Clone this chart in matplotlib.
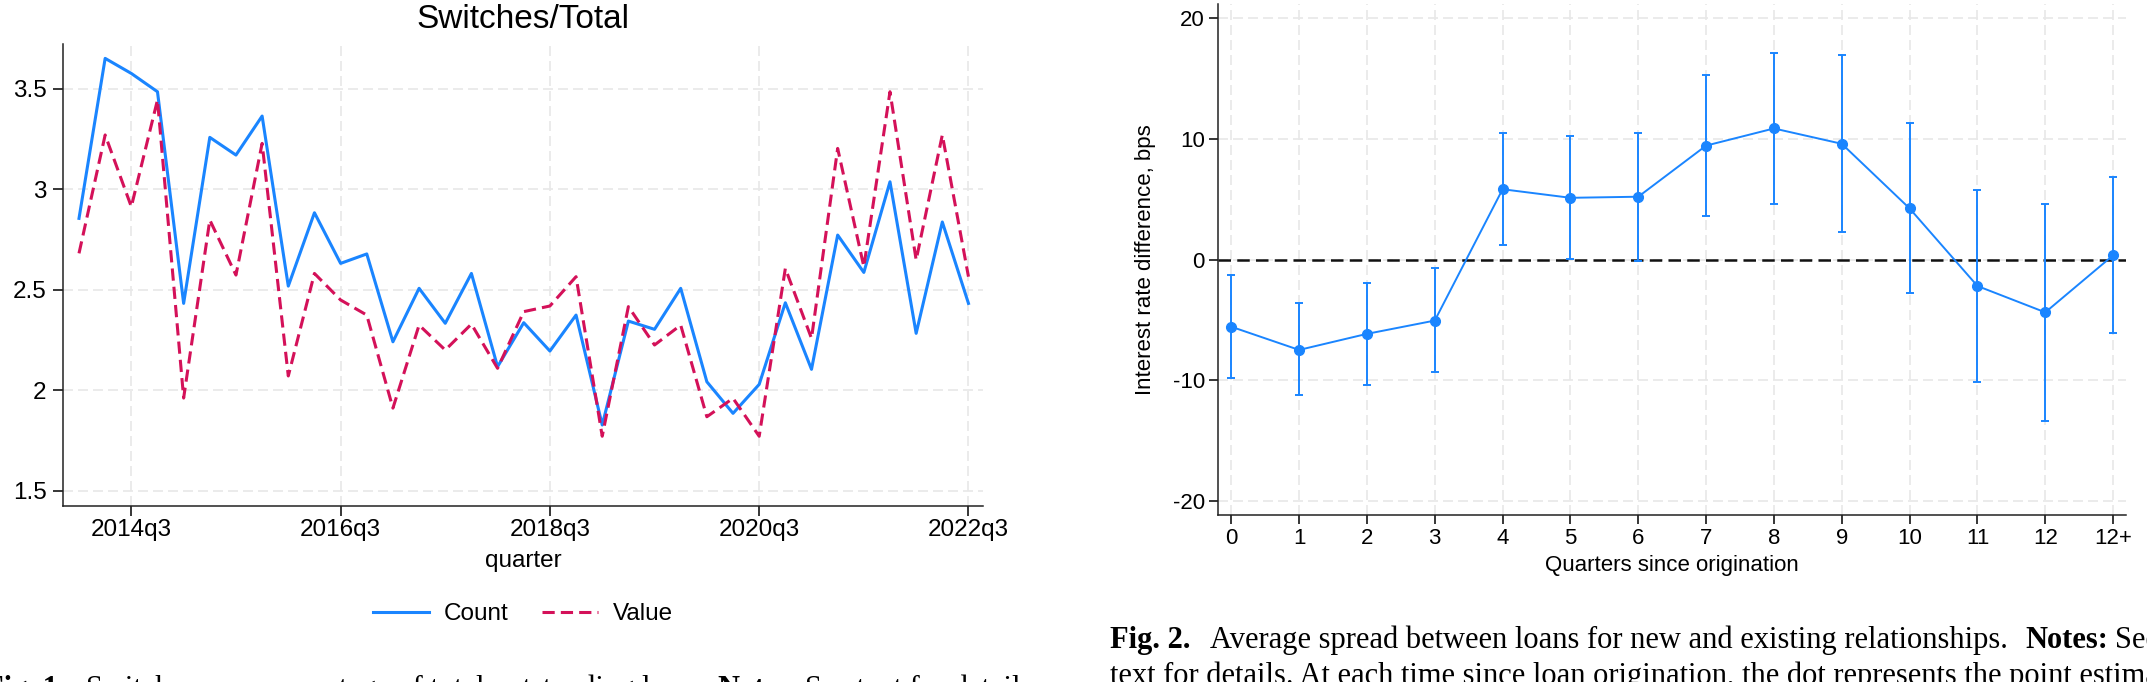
#! /usr/bin/env python3

'''
Two panels side by side: switches as a share of outstanding loans (left)
and the average spread between loans for new and existing relationships (right)
'''

import matplotlib
matplotlib.use('Agg')
import matplotlib.pyplot as plt

BLUE = '#1a85ff'
RED = '#d41159'
GRID = '#e8e8e8'
W, H = 2147, 682

quarters = ['2014q1', '2014q2', '2014q3', '2014q4', '2015q1', '2015q2', '2015q3', '2015q4',
            '2016q1', '2016q2', '2016q3', '2016q4', '2017q1', '2017q2', '2017q3', '2017q4',
            '2018q1', '2018q2', '2018q3', '2018q4', '2019q1', '2019q2', '2019q3', '2019q4',
            '2020q1', '2020q2', '2020q3', '2020q4', '2021q1', '2021q2', '2021q3', '2021q4',
            '2022q1', '2022q2', '2022q3']
count = [2.854, 3.650, 3.575, 3.484, 2.431, 3.257, 3.169, 3.363, 2.517, 2.882, 2.630, 2.677,
         2.240, 2.506, 2.332, 2.580, 2.116, 2.335, 2.194, 2.373, 1.826, 2.343, 2.302, 2.506,
         2.041, 1.884, 2.028, 2.434, 2.103, 2.771, 2.585, 3.036, 2.282, 2.836, 2.431]
value = [2.680, 3.269, 2.912, 3.443, 1.960, 2.846, 2.572, 3.227, 2.070, 2.580, 2.448, 2.373,
         1.910, 2.323, 2.199, 2.328, 2.108, 2.390, 2.418, 2.564, 1.770, 2.415, 2.224, 2.323,
         1.867, 1.959, 1.770, 2.605, 2.257, 3.202, 2.614, 3.484, 2.647, 3.269, 2.564]
quarter_ticks = ['2014q3', '2016q3', '2018q3', '2020q3', '2022q3']
share_ticks = [1.5, 2, 2.5, 3, 3.5]

since = ['0', '1', '2', '3', '4', '5', '6', '7', '8', '9', '10', '11', '12', '12+']
spread = [-5.56, -7.48, -6.15, -5.05, 5.82, 5.11, 5.20, 9.43, 10.85, 9.58, 4.23, -2.19, -4.37, 0.35]
ci_low = [-9.78, -11.23, -10.35, -9.31, 1.18, 0.06, -0.12, 3.58, 4.61, 2.28, -2.78, -10.17, -13.33, -6.09]
ci_high = [-1.27, -3.61, -1.92, -0.74, 10.49, 10.23, 10.49, 15.28, 17.11, 16.91, 11.26, 5.79, 4.58, 6.86]
bps_ticks = [-20, -10, 0, 10, 20]


def style_axes(ax):
    ax.spines['top'].set_visible(False)
    ax.spines['right'].set_visible(False)
    for side in ('left', 'bottom'):
        ax.spines[side].set_linewidth(1.1)
        ax.spines[side].set_color('#222222')
    ax.set_axisbelow(True)
    ax.grid(True, color=GRID, linestyle=(0, (6, 3)), linewidth=1.2)


def plot_switches(ax):
    x = list(range(len(quarters)))
    ax.plot(x, count, color=BLUE, lw=2.2, label='Count')
    ax.plot(x, value, color=RED, lw=2.2, dashes=(4, 2), label='Value')

    ax.set_xlim(-0.6, 34.54)
    ax.set_ylim(1.425, 3.724)
    ax.set_xticks([quarters.index(q) for q in quarter_ticks])
    ax.set_xticklabels(quarter_ticks)
    ax.set_yticks(share_ticks)
    ax.set_yticklabels(['%g' % t for t in share_ticks])
    ax.tick_params(labelsize=17.5, length=7, width=1.1)
    ax.tick_params(axis='x', pad=3)
    ax.tick_params(axis='y', pad=5)
    ax.set_xlabel('quarter', fontsize=17.5, labelpad=6)
    ax.set_title('Switches/Total', fontsize=24, pad=11)
    style_axes(ax)


def plot_spread(ax):
    x = list(range(len(since)))
    err = [[s - lo for s, lo in zip(spread, ci_low)],
           [hi - s for s, hi in zip(spread, ci_high)]]
    ax.axhline(0, color='#111111', lw=1.8, dashes=(5, 2.5), zorder=2)
    ax.errorbar(x, spread, yerr=err, color=BLUE, lw=1.4, marker='o', ms=7,
                elinewidth=1.4, capsize=3, capthick=1.4, zorder=3)

    ax.set_xlim(-0.2, 13.19)
    ax.set_ylim(-21.1, 21.15)
    ax.set_xticks(x)
    ax.set_xticklabels(since)
    ax.set_yticks(bps_ticks)
    ax.set_yticklabels([str(t) for t in bps_ticks])
    ax.tick_params(labelsize=16, length=6.5, width=1.1)
    ax.tick_params(axis='x', pad=3.5)
    ax.tick_params(axis='y', pad=2.7)
    ax.set_xlabel('Quarters since origination', fontsize=16, labelpad=4)
    ax.set_ylabel('Interest rate difference, bps', fontsize=16, labelpad=12)
    style_axes(ax)


def add_captions(fig):
    serif = ['Liberation Serif', 'DejaVu Serif']
    size = 22
    # Fig. 1 caption, mostly below the bottom edge
    y1 = 1 - 697 / H
    fig.text(-15 / W, y1, 'Fig. 1.', family=serif, fontsize=size, weight='bold')
    fig.text(86 / W, y1, 'Switches as a percentage of total outstanding loans.', family=serif, fontsize=size)
    fig.text(717 / W, y1, 'Notes:', family=serif, fontsize=size, weight='bold')
    fig.text(805 / W, y1, 'See text for details.', family=serif, fontsize=size)
    # Fig. 2 caption, running past the right edge
    y2 = 1 - 648 / H
    fig.text(1110 / W, y2, 'Fig. 2.', family=serif, fontsize=size, weight='bold')
    fig.text(1210 / W, y2, 'Average spread between loans for new and existing relationships.',
             family=serif, fontsize=size)
    fig.text(2025 / W, y2, 'Notes:', family=serif, fontsize=size, weight='bold')
    fig.text(2115 / W, y2, 'See', family=serif, fontsize=size)
    fig.text(1110 / W, 1 - 684 / H,
             'text for details. At each time since loan origination, the dot represents the point estimate',
             family=serif, fontsize=size)


def main():
    plt.rcParams['font.family'] = ['Liberation Sans', 'DejaVu Sans']
    plt.rcParams['axes.unicode_minus'] = False

    fig = plt.figure(figsize=(W / 100, H / 100), dpi=100)
    ax1 = fig.add_axes([63.3 / W, 1 - 505.6 / H, 919.3 / W, 462.1 / H])
    ax2 = fig.add_axes([1217.7 / W, 1 - 514.5 / H, 908.3 / W, 510.5 / H])

    plot_switches(ax1)
    plot_spread(ax2)

    fig.legend(*ax1.get_legend_handles_labels(), loc='center', ncol=2, frameon=False,
               bbox_to_anchor=(523 / W, 1 - 614.3 / H), fontsize=17.5,
               handlelength=2.3, handletextpad=0.6, columnspacing=1.4)
    add_captions(fig)

    fig.savefig('out.png', dpi=100)


if __name__ == '__main__':
    main()
